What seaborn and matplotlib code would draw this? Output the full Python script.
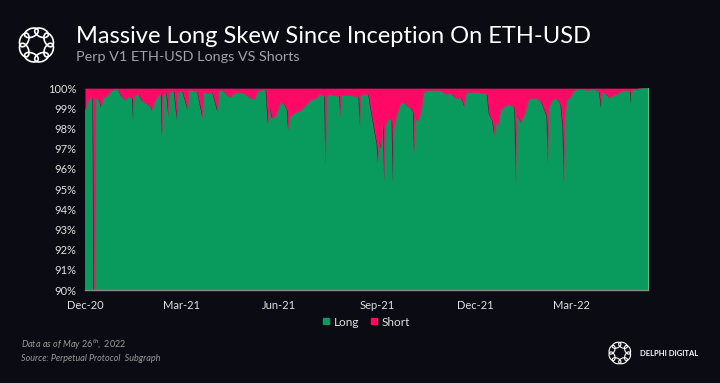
import numpy as np
import pandas as pd
import seaborn as sns
import matplotlib.pyplot as plt
from matplotlib.patches import Ellipse
from matplotlib.lines import Line2D

BG = '#0b0b13'
GREEN = '#099b5e'
PINK = '#ff0866'

# perp v1 launch date, values are daily long share (%)
launch = '2020-12-14'
days_since_launch = [
    0, 3, 6, 7, 8, 9, 10, 13, 15, 17, 21, 24, 28, 31, 34, 38, 41, 44, 45, 46,
    50, 53, 57, 61, 63, 65, 68, 71, 72, 73, 76, 78, 79, 83, 86, 87, 91, 96, 97,
    101, 105, 110, 111, 115, 119, 124, 125, 129, 132, 136, 140, 145, 150, 155,
    159, 161, 165, 169, 171, 173, 175, 179, 183, 187, 189, 190, 192, 197, 202,
    206, 211, 216, 220, 224, 225, 226, 230, 235, 238, 239, 240, 247, 253, 256,
    257, 258, 263, 265, 268, 271, 273, 274, 275, 277, 279, 280, 281, 284, 287,
    288, 289, 292, 295, 298, 302, 305, 307, 308, 309, 312, 315, 317, 322, 327,
    333, 338, 342, 347, 352, 355, 357, 363, 371, 376, 378, 381, 383, 385, 387,
    389, 393, 397, 401, 402, 403, 404, 408, 412, 415, 418, 423, 427, 430, 432,
    433, 434, 437, 441, 445, 447, 448, 449, 451, 455, 458, 464, 470, 477, 481,
    483, 484, 488, 491, 494, 498, 502, 507, 510, 511, 512, 517, 522, 527]
long_pct = [
    98.85, 99.4, 99.55, 99.5, 88, 88, 99.5, 99.4, 99.05, 99.5, 99.65, 99.85,
    99.95, 99.9, 99.6, 99.4, 99.6, 99.5, 98.4, 99.6, 99.7, 99.4, 99.25, 99.1,
    98.9, 99.3, 99.6, 99.7, 97.6, 99.6, 99.8, 98.6, 99.8, 99.85, 98.4, 99.8,
    99.85, 98.9, 99.85, 99.9, 99.8, 98.5, 99.8, 99.75, 99.8, 98.8, 99.85, 99.9,
    99.7, 99.55, 99.75, 99.8, 99.7, 99.5, 99.45, 99.8, 99.9, 99.95, 98.25, 99.0,
    98.5, 98.7, 99.3, 99.15, 98.9, 97.95, 98.6, 98.8, 98.9, 99.1, 99.4, 99.5,
    99.7, 99.6, 96.1, 99.6, 99.7, 99.6, 99.65, 98.6, 99.65, 99.65, 99.6, 99.6,
    98.1, 99.65, 99.7, 99.7, 98.7, 97.8, 97.2, 96.3, 97.4, 97.0, 98.2, 95.45,
    98.1, 98.5, 98.4, 95.3, 98.0, 98.7, 99.2, 99.3, 99.1, 99.0, 98.8, 96.8,
    98.5, 98.4, 99.0, 99.8, 99.9, 99.9, 99.85, 99.7, 99.75, 99.5, 99.5, 99.1,
    99.8, 99.8, 99.75, 99.7, 98.7, 98.4, 97.7, 98.3, 98.2, 98.9, 99.1, 99.2,
    99.1, 98.9, 95.3, 98.7, 98.3, 98.8, 99.4, 99.5, 99.5, 99.3, 98.9, 98.6,
    96.3, 99.0, 99.4, 99.5, 99.2, 98.0, 95.3, 98.5, 99.4, 99.6, 99.9, 99.95,
    99.9, 99.95, 99.8, 99.0, 99.8, 99.7, 99.5, 99.65, 99.7, 99.85, 99.9, 99.85,
    99.25, 99.9, 99.95, 100.0, 100.0]

tick_dates = ['2020-12-14', '2021-03-14', '2021-06-14', '2021-09-14',
              '2021-12-14', '2022-03-14']
tick_labels = ['Dec-20', 'Mar-21', 'Jun-21', 'Sep-21', 'Dec-21', 'Mar-22']
y_ticks = list(range(90, 101))


def draw_logo(fig, rect, lw=1.1):
    ''' ring of interlocking loops, roughly like the delphi mark '''
    lax = fig.add_axes(rect)
    lax.set_xlim(-1.3, 1.3)
    lax.set_ylim(-1.3, 1.3)
    lax.set_aspect('equal')
    lax.axis('off')
    for k in range(8):
        ang = np.pi / 8 + k * np.pi / 4
        cx, cy = 0.78 * np.cos(ang), 0.78 * np.sin(ang)
        lax.add_patch(Ellipse((cx, cy), 0.85, 0.5,
                              angle=np.degrees(ang) + 90,
                              fill=False, ec='white', lw=lw))


df = pd.DataFrame({
    'date': pd.Timestamp(launch) + pd.to_timedelta(days_since_launch, unit='D'),
    'long': long_pct})

sns.set_style('dark', {'axes.facecolor': BG, 'figure.facecolor': BG})
plt.rcParams['font.family'] = ['Lato', 'DejaVu Sans']
plt.rcParams['mathtext.fontset'] = 'custom'
plt.rcParams['mathtext.it'] = 'Lato:italic'
plt.rcParams['mathtext.rm'] = 'Lato'

fig = plt.figure(figsize=(7.2, 3.83), dpi=100, facecolor=BG)
ax = fig.add_axes([0.118, 0.2428, 0.782, 0.527])

ax.fill_between(df['date'], 0, df['long'], color=GREEN, lw=0)
ax.fill_between(df['date'], df['long'], 100, color=PINK, lw=0)
sns.lineplot(data=df, x='date', y='long', ax=ax, color='#7a6a70',
             lw=0.35, alpha=0.6)

ax.set_ylim(90, 100)
ax.set_xlim(df['date'].min(), df['date'].max())
ax.set_yticks(y_ticks)
ax.set_yticklabels([f'{v}%' for v in y_ticks])
ax.set_xticks(pd.to_datetime(tick_dates))
ax.set_xticklabels(tick_labels)
ax.set_xlabel('')
ax.set_ylabel('')
ax.tick_params(axis='y', colors='#e0e0e0', labelsize=8, length=0, pad=6)
ax.tick_params(axis='x', colors='#e0e0e0', labelsize=8, length=4,
               width=0.8, pad=3)
ax.xaxis.set_tick_params(color='#8a8a8a')
for side in ['top', 'left']:
    ax.spines[side].set_visible(False)
ax.spines['bottom'].set_color('#8a8a8a')
ax.spines['bottom'].set_linewidth(1.0)
ax.spines['right'].set_color('#5fb88c')
ax.spines['right'].set_linewidth(0.8)
ax.grid(False)

handles = [Line2D([], [], marker='s', ls='', color=GREEN, markersize=5),
           Line2D([], [], marker='s', ls='', color=PINK, markersize=5)]
fig.legend(handles, ['Long', 'Short'], loc='center', ncol=2,
           bbox_to_anchor=(0.507, 0.159), frameon=False, fontsize=8.5,
           labelcolor='#e0e0e0', handletextpad=0.1, columnspacing=0.8,
           handlelength=1.0)

fig.text(0.1056, 0.9034, 'Massive Long Skew Since Inception On ETH-USD',
         color='white', fontsize=17, va='center', ha='left')
fig.text(0.1056, 0.851, 'Perp V1 ETH-USD Longs VS Shorts',
         color='#a3a3ab', fontsize=10.4, va='center', ha='left')
fig.text(0.029, 0.0985,
         r'$\mathit{Data\ as\ of\ May\ 26^{th},\ 2022}$',
         color='#9a9a9a', fontsize=6.5, va='center')
fig.text(0.029, 0.064, 'Source: Perpetual Protocol  Subgraph',
         color='#9a9a9a', fontsize=6.5, style='italic', va='center')
fig.text(0.889, 0.078, 'DELPHI DIGITAL', color='white', fontsize=5.5,
         weight='bold', va='center', ha='left')

draw_logo(fig, [0.0194, 0.825, 0.0625, 0.115], lw=1.2)
draw_logo(fig, [0.840, 0.0418, 0.0417, 0.073], lw=0.8)

fig.savefig('out.png', dpi=100, facecolor=BG)
